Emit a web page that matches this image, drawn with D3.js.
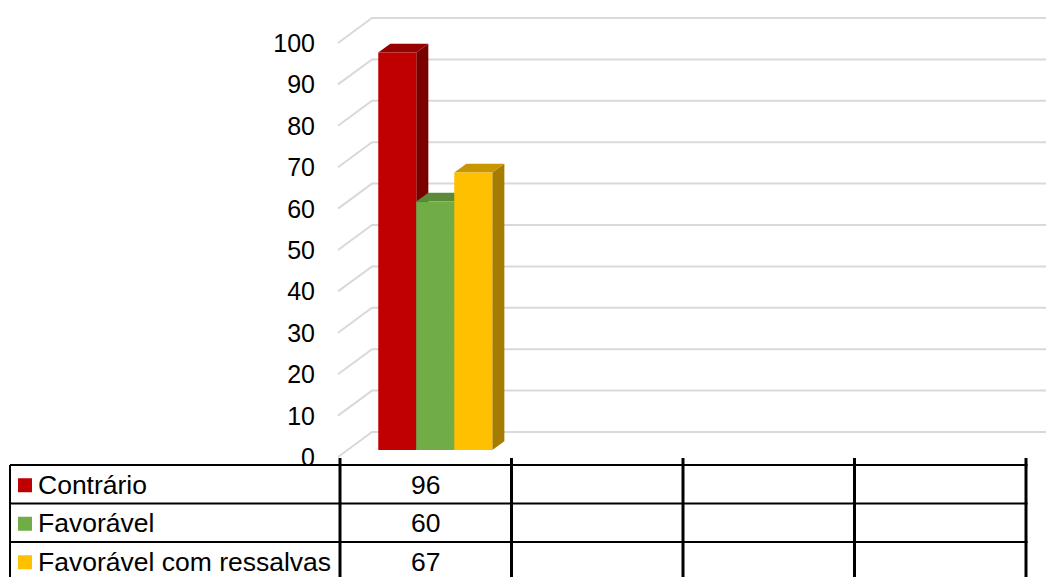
<!DOCTYPE html>
<html>
<head>
<meta charset="utf-8">
<script src="https://cdn.jsdelivr.net/npm/d3@7"></script>
<style>
  html, body { margin: 0; padding: 0; background: #ffffff; }
  svg { display: block; }
  text { font-family: "Liberation Sans", Arial, sans-serif; fill: #000; }
</style>
</head>
<body>
<svg id="chart" width="1046" height="577"></svg>
<script>
// Categories along the floor (unlabelled in the data table)
const categories = ["c1", "c2", "c3", "c4"];
// Series names, shown in the data table
const seriesNames = ["Contrário", "Favorável", "Favorável com ressalvas"];
// Values per category for each series
const contrario = [96, null, null, null];
const favoravel = [60, null, null, null];
const favoravelRessalvas = [67, null, null, null];
// Value axis ticks
const yTicks = [0, 10, 20, 30, 40, 50, 60, 70, 80, 90, 100];

const seriesValues = [contrario, favoravel, favoravelRessalvas];
const colors = {
  front: ["#C00000", "#70AD47", "#FFC000"],
  side:  ["#7A0000", "#4A7A2E", "#A67C00"],
  top:   ["#960000", "#5A8A3A", "#C89600"]
};

const W = 1046, H = 577;
const svg = d3.select("#chart");

// Oblique projection: depth fraction f moves a point by (DX*f, DY*f)
const DX = 34, DY = -25;
const proj = (x, y, f) => [x + DX * f, y + DY * f];

// Value scale on the front edge of the floor
const y = d3.scaleLinear().domain([0, 100]).range([457, 43]);

// Category bands on the front edge of the floor
const x = d3.scaleBand().domain(categories).range([340, 1026]).paddingInner(0).paddingOuter(0);

// Series positions within one category
const xs = d3.scaleBand().domain(seriesNames).range([0, x.bandwidth()])
  .paddingInner(0).paddingOuter(0.756);

// Gridlines: short diagonal on the side wall and a line across the back wall
const grid = svg.append("g").attr("stroke", "#D9D9D9").attr("stroke-width", 2).attr("fill", "none");
yTicks.forEach(v => {
  const a = proj(x.range()[0] - 2, y(v), 0);
  const b = proj(x.range()[0] - 2, y(v), 1);
  grid.append("path").attr("d", d3.line()([a, b, [W, b[1]]]));
});

// Value axis labels
svg.append("g").selectAll("text").data(yTicks).join("text")
  .attr("x", 315).attr("y", d => y(d)).attr("dy", "0.36em")
  .attr("text-anchor", "end").attr("font-size", 25)
  .text(d => d);

// 3D columns
const F0 = 0.28, F1 = 0.635;
const bars = svg.append("g");
categories.forEach((c, ci) => {
  seriesNames.forEach((s, si) => {
    const v = seriesValues[si][ci];
    if (v == null) return;
    const x0 = x(c) + xs(s), x1 = x0 + xs.bandwidth();
    const yb = y(0), yt = y(v);
    const g = bars.append("g");
    // right side face
    g.append("path").attr("fill", colors.side[si]).attr("d", d3.line()([
      proj(x1, yb, F0), proj(x1, yt, F0), proj(x1, yt, F1), proj(x1, yb, F1)
    ]) + "Z");
    // top face
    g.append("path").attr("fill", colors.top[si]).attr("d", d3.line()([
      proj(x0, yt, F0), proj(x1, yt, F0), proj(x1, yt, F1), proj(x0, yt, F1)
    ]) + "Z");
    // front face
    g.append("path").attr("fill", colors.front[si]).attr("d", d3.line()([
      proj(x0, yb, F0), proj(x1, yb, F0), proj(x1, yt, F0), proj(x0, yt, F0)
    ]) + "Z");
  });
});

// Data table below the floor
const tableTop = 465, rowH = 38.5, tableLeft = 10;
const tbl = svg.append("g");
const rowYs = d3.range(seriesNames.length + 1).map(i => tableTop + i * rowH);
rowYs.forEach(ry => {
  tbl.append("line").attr("x1", tableLeft).attr("x2", x.range()[1] + 1.5)
    .attr("y1", ry).attr("y2", ry).attr("stroke", "#000").attr("stroke-width", 2);
});
tbl.append("line").attr("x1", tableLeft).attr("x2", tableLeft)
  .attr("y1", tableTop).attr("y2", H).attr("stroke", "#000").attr("stroke-width", 2);
const dividers = categories.map(c => x(c)).concat([x.range()[1]]);
tbl.selectAll("line.div").data(dividers).join("line").attr("class", "div")
  .attr("x1", d => d).attr("x2", d => d)
  .attr("y1", tableTop - 7).attr("y2", H)
  .attr("stroke", "#000").attr("stroke-width", 3);

// Legend keys and series names
seriesNames.forEach((s, si) => {
  const cy = tableTop + si * rowH + rowH / 2;
  tbl.append("rect").attr("x", 18).attr("y", cy - 6).attr("width", 14).attr("height", 14)
    .attr("fill", colors.front[si]);
  tbl.append("text").attr("x", 38).attr("y", cy).attr("dy", "0.36em")
    .attr("font-size", 26.5).text(s);
  categories.forEach((c, ci) => {
    const v = seriesValues[si][ci];
    if (v == null) return;
    tbl.append("text").attr("x", x(c) + x.bandwidth() / 2).attr("y", cy).attr("dy", "0.36em")
      .attr("text-anchor", "middle").attr("font-size", 26.5).text(v);
  });
});
</script>
</body>
</html>
